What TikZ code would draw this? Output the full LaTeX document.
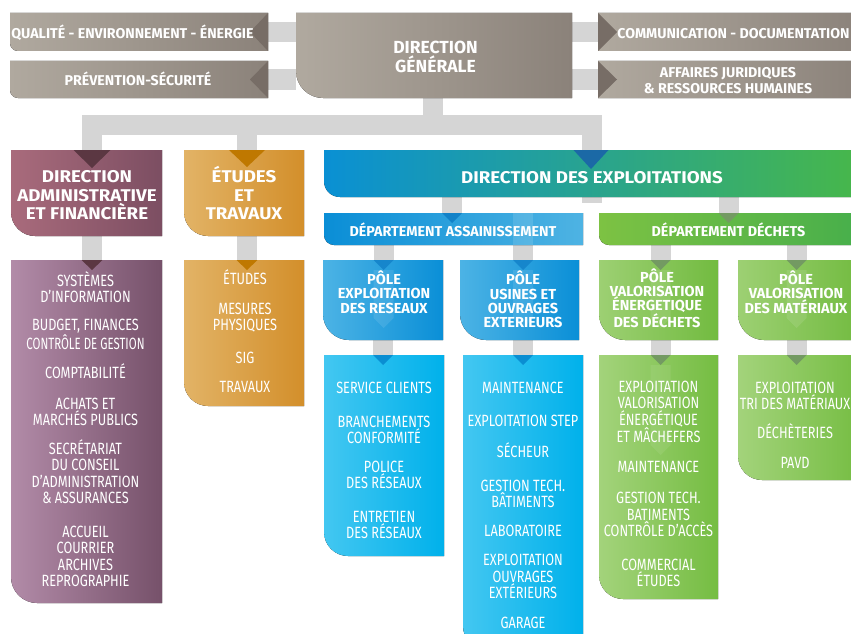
\documentclass[tikz,border=0pt]{standalone}
\usepackage{fontspec}
\setmainfont{Fira Sans}
\newfontfamily\fhead{Fira Sans}
\newfontfamily\fbig{Fira Sans}[FakeStretch=1.1]
\newfontfamily\flist{Fira Sans}[FakeStretch=0.78]
\usetikzlibrary{calc}
\pgfdeclarelayer{bars}
\pgfdeclarelayer{boxes}
\pgfsetlayers{bars,boxes,main}
\definecolor{barc}{HTML}{D5D5D5}
\definecolor{grayL}{HTML}{B0A99F}
\definecolor{grayR}{HTML}{8B827A}
\definecolor{grayT}{HTML}{776D66}
\definecolor{mauveL}{HTML}{A96B7C}
\definecolor{mauveR}{HTML}{7C4E62}
\definecolor{mauveLL}{HTML}{B28BA8}
\definecolor{mauveLR}{HTML}{76516A}
\definecolor{mauveT}{HTML}{5B3742}
\definecolor{orL}{HTML}{E2B366}
\definecolor{orR}{HTML}{D38F2B}
\definecolor{orT}{HTML}{BF7800}
\definecolor{deL}{HTML}{0A90D4}
\definecolor{deM}{HTML}{0EA59A}
\definecolor{deR}{HTML}{47B74A}
\definecolor{deT}{HTML}{1B69A6}
\definecolor{daL}{HTML}{0A8ED6}
\definecolor{daR}{HTML}{4EB3E3}
\definecolor{daT}{HTML}{1282C8}
\definecolor{ddL}{HTML}{7DC243}
\definecolor{ddR}{HTML}{47AF4B}
\definecolor{poL}{HTML}{4CB3E5}
\definecolor{poR}{HTML}{0A8FD7}
\definecolor{blT}{HTML}{1686CC}
\definecolor{cyL}{HTML}{43C7F1}
\definecolor{cyR}{HTML}{00B1EB}
\definecolor{cyT}{HTML}{0A8ED2}
\definecolor{gpL}{HTML}{9DD073}
\definecolor{gpR}{HTML}{72BB40}
\definecolor{glL}{HTML}{A3D37B}
\definecolor{glR}{HTML}{75BD42}
\definecolor{grT}{HTML}{739A62}
\newcommand\mkbox[5]{\node[bx,minimum width={(#4)-(#2)},minimum height={(#5)-(#3)}] (#1) at ({((#2)+(#4))/2},{((#3)+(#5))/2}) {};}
\newcommand\mkshape[4]{\begin{pgfonlayer}{boxes}\fill[left color=#3,right color=#4] (#1.north west) -- (#1.north east) -- (#1.south east) -- ([xshift=#2pt]#1.south west) .. controls ([xshift=0.448*#2pt]#1.south west) and ([yshift=0.448*#2pt]#1.south west) .. ([yshift=#2pt]#1.south west) -- cycle;\end{pgfonlayer}}
\newcommand\mktri[5]{\fill[#1] ({#2-#4},#3) -- ({#2+#4},#3) -- (#2,{#3+#5}) -- cycle;}
\newcommand\mkghost[4]{\fill[white,opacity=#4] ({#1-10},#2) -- ({#1+10},#2) -- ({#1+10},#3) -- (#1,{#3+10}) -- ({#1-10},#3) -- cycle;}
\tikzset{
 bx/.style={rectangle,inner sep=0pt,outer sep=0pt,draw=none},
 conn/.style={draw=barc,line width=20pt},
 txt/.style={text=white,align=center,inner sep=0pt,anchor=base},
 side/.style={txt,font=\fhead\bfseries\fontsize{14.2}{16}\selectfont,yshift=-4.9pt},
 dgt/.style={txt,font=\fhead\bfseries\fontsize{17.5}{18.5}\selectfont,yshift=-6pt},
 hd/.style={txt,font=\fbig\bfseries\fontsize{17}{18.25}\selectfont,yshift=-5.9pt},
 dept/.style={txt,font=\fhead\bfseries\fontsize{14.3}{16}\selectfont,yshift=-4.9pt},
 pole/.style={txt,font=\fhead\bfseries\fontsize{14.5}{14.2}\selectfont,yshift=-5pt},
 lst/.style={txt,font=\flist\fontsize{16.3}{16.4}\selectfont,yshift=-5.6pt},
}
\begin{document}
\begin{tikzpicture}[x=1pt,y=-1pt]
\useasboundingbox (0,0) rectangle (851,634);
\clip (0,0) rectangle (851,634);
\begin{pgfonlayer}{bars}
\fill[white] (0,0) rectangle (851,634);
\end{pgfonlayer}
% boxes
\mkbox{q}{10}{13}{268}{51} \mkshape{q}{8}{grayL}{grayR}
\mkbox{p}{10}{61}{268}{98} \mkshape{p}{8}{grayL}{grayR}
\mkbox{dg}{296}{13}{572}{98} \mkshape{dg}{27}{grayL}{grayR}
\mkbox{com}{598}{13}{862}{51} \mkshape{com}{0}{grayL}{grayR}
\mkbox{af}{598}{61}{862}{98} \mkshape{af}{0}{grayL}{grayR}
\mkbox{daf}{11}{150}{162}{236} \mkshape{daf}{24}{mauveL}{mauveR}
\mkbox{et}{184}{150}{304}{236} \mkshape{et}{24}{orL}{orR}
\mkbox{dde}{324}{150}{860}{197}
\begin{pgfonlayer}{boxes}
\fill[left color=deL,middle color=deM,right color=deR] (dde.north west) -- (dde.north east) -- (dde.south east) -- ([xshift=16pt]dde.south west) .. controls ([xshift=7pt]dde.south west) and ([yshift=7pt]dde.south west) .. ([yshift=16pt]dde.south west) -- cycle;
\end{pgfonlayer}
\mkbox{dafl}{11}{260}{162}{603} \mkshape{dafl}{26}{mauveLL}{mauveLR}
\mkbox{etl}{184}{260}{304}{406} \mkshape{etl}{24}{orL}{orR}
\mkbox{da}{324}{213}{583}{245} \mkshape{da}{10}{daL}{daR}
\mkbox{dd}{599}{213}{858}{245} \mkshape{dd}{10}{ddL}{ddR}
\mkbox{pe}{323}{260}{443}{340} \mkshape{pe}{26}{poL}{poR}
\mkbox{pu}{460}{260}{579}{340} \mkshape{pu}{26}{poL}{poR}
\mkbox{pv}{599}{260}{718}{340} \mkshape{pv}{26}{gpL}{gpR}
\mkbox{pm}{738}{260}{862}{340} \mkshape{pm}{26}{gpL}{gpR}
\mkbox{pel}{324}{355}{444}{556} \mkshape{pel}{24}{cyL}{cyR}
\mkbox{pul}{463}{355}{583}{650} \mkshape{pul}{24}{cyL}{cyR}
\mkbox{pvl}{599}{355}{718}{599} \mkshape{pvl}{24}{glL}{glR}
\mkbox{pml}{738}{355}{862}{480} \mkshape{pml}{24}{glL}{glR}
% connectors
\coordinate (j) at (433,125);
\begin{pgfonlayer}{bars}
\draw[conn] (j |- dg.south) -- (j);
\draw[conn] ([xshift=5.5pt]daf.north) |- (j) -| (dde.north);
\draw[conn] (dde.north) -- ([yshift=-6pt]dde.south);
\draw[conn] ([xshift=3pt]et.north) -- ++(0,-25);
\draw[conn] (q.east) -- (q.east -| dg.west);
\draw[conn] (p.east) -- (p.east -| dg.west);
\draw[conn] (com.west) -- (com.west -| dg.east);
\draw[conn] (af.west) -- (af.west -| dg.east);
\draw[conn] ([xshift=5.5pt]daf.south) -- ([xshift=5.5pt]dafl.north);
\draw[conn] ([xshift=3pt]et.south) -- ([xshift=3pt]etl.north);
\draw[conn] ([xshift=-1.5pt]da.north) -- ++(0,-17);
\draw[conn] (dd.north) -- ++(0,-17);
\draw[conn] ([xshift=0.5pt]pe.north) -- ++(0,-16);
\draw[conn] ([xshift=3.5pt]pu.north) -- ++(0,-16);
\draw[conn] ([xshift=2pt]pv.north) -- ++(0,-16);
\draw[conn] ([xshift=-3.5pt]pm.north) -- ++(0,-16);
\draw[conn] ([xshift=-1pt]pel.north) -- ++(0,-15);
\draw[conn] (pul.north) -- ++(0,-15);
\draw[conn] ([xshift=2pt]pvl.north) -- ++(0,-15);
\draw[conn] ([xshift=-3.5pt]pml.north) -- ++(0,-15);
\end{pgfonlayer}
% ghosts
\fill[white,opacity=0.12] (513,213) rectangle (533,245);
\mkghost{383.5}{270}{318}{0.1}
\mkghost{523}{270}{318}{0.1}
\mkghost{660.5}{270}{318}{0.1}
\mkghost{796.5}{270}{318}{0.1}
\mkghost{660.5}{365}{445}{0.08}
% triangles
\fill[grayT] (q.north east) -- (q.south east) -- ([xshift=-18pt]q.east) -- cycle;
\fill[grayT] (p.north east) -- (p.south east) -- ([xshift=-18pt]p.east) -- cycle;
\fill[grayT] (com.north west) -- (com.south west) -- ([xshift=19pt]com.west) -- cycle;
\fill[grayT] (af.north west) -- (af.south west) -- ([xshift=19pt]af.west) -- cycle;
\mktri{mauveT}{92}{150}{18.5}{18}
\mktri{orT}{247}{150}{18}{17}
\mktri{deT}{591}{150}{17.5}{19}
\mktri{mauveT}{92}{260}{10.5}{10}
\mktri{orT}{247}{260}{10.5}{10}
\mktri{daT}{452}{213}{10}{10}
\mktri{grT}{728.5}{213}{10}{10}
\mktri{blT}{383.5}{260}{10}{10}
\mktri{blT}{523}{260}{10}{10}
\mktri{grT}{660.5}{260}{10}{10}
\mktri{grT}{796.5}{260}{10}{10}
\mktri{cyT}{383}{355}{10}{10}
\mktri{cyT}{523}{355}{10}{10}
\mktri{grT}{660.5}{355}{10}{10}
\mktri{grT}{796.5}{355}{10}{10}
% texts (y = centre of the last line)
\node[side] (tq) at (132.5,33.5) {QUALITÉ - ENVIRONNEMENT - ÉNERGIE};
\node[side] (tp) at (138,81) {PRÉVENTION-SÉCURITÉ};
\node[side] (tc) at (733.5,34) {COMMUNICATION - DOCUMENTATION};
\node[side] (ta) at (728,88.5) {AFFAIRES JURIDIQUES\\\& RESSOURCES HUMAINES};
\node[dgt] (tdg) at (435.5,66) {DIRECTION\\GÉNÉRALE};
\node[hd] (tdaf) at (87,213.5) {DIRECTION\\ADMINISTRATIVE\\ET FINANCIÈRE};
\node[hd] (tet) at (244,213.5) {ÉTUDES\\ET\\TRAVAUX};
\node[hd] (tdde) at (592,177.5) {DIRECTION DES EXPLOITATIONS};
\node[dept] (tda) at (453,232) {DÉPARTEMENT ASSAINISSEMENT};
\node[dept] (tdd) at (728.5,232) {DÉPARTEMENT DÉCHETS};
\node[pole] (tpe) at (384,308) {PÔLE\\EXPLOITATION\\DES RESEAUX};
\node[pole] (tpu) at (523,322.5) {PÔLE\\USINES ET\\OUVRAGES\\EXTERIEURS};
\node[pole] (tpv) at (657,322.5) {PÔLE\\VALORISATION\\ÉNERGETIQUE\\DES DÉCHETS};
\node[pole] (tpm) at (796,308) {PÔLE\\VALORISATION\\DES MATÉRIAUX};
% lists
\node[lst] (l1) at (85.5,297) {SYSTÈMES\\D’INFORMATION};
\node[lst] (l2) at (85.5,344) {BUDGET, FINANCES\\\scalebox{0.9}[1]{CONTRÔLE DE GESTION}};
\node[lst] (l3) at (85.5,373) {COMPTABILITÉ};
\node[lst] (l4) at (85.5,420) {ACHATS ET\\MARCHÉS PUBLICS};
\node[lst] (l5) at (85.5,498) {SECRÉTARIAT\\DU CONSEIL\\D’ADMINISTRATION\\\& ASSURANCES};
\node[lst] (l6) at (85.5,581) {ACCUEIL\\COURRIER\\ARCHIVES\\REPROGRAPHIE};
\node[lst] (e1) at (245,279) {ÉTUDES};
\node[lst] (e2) at (245,325) {MESURES\\PHYSIQUES};
\node[lst] (e3) at (245,358) {SIG};
\node[lst] (e4) at (245,387) {TRAVAUX};
\node[lst] (r1) at (384,388) {SERVICE CLIENTS};
\node[lst] (r2) at (384,438) {BRANCHEMENTS\\CONFORMITÉ};
\node[lst] (r3) at (384,483) {POLICE\\DES RÉSEAUX};
\node[lst] (r4) at (384,533) {ENTRETIEN\\DES RÉSEAUX};
\node[lst] (u1) at (523,388) {MAINTENANCE};
\node[lst] (u2) at (523,421) {EXPLOITATION STEP};
\node[lst] (u3) at (523,452) {SÉCHEUR};
\node[lst] (u4) at (523,502) {GESTION TECH.\\BÂTIMENTS};
\node[lst] (u5) at (523,531) {LABORATOIRE};
\node[lst] (u6) at (523,593) {EXPLOITATION\\OUVRAGES\\EXTÉRIEURS};
\node[lst] (u7) at (523,623) {GARAGE};
\node[lst] (v1) at (658.5,437) {EXPLOITATION\\VALORISATION\\ÉNERGÉTIQUE\\ET MÂCHEFERS};
\node[lst] (v2) at (658.5,467) {MAINTENANCE};
\node[lst] (v3) at (658.5,531) {GESTION TECH.\\BATIMENTS\\CONTRÔLE D’ACCÈS};
\node[lst] (v4) at (658.5,581) {COMMERCIAL\\ÉTUDES};
\node[lst] (m1) at (795,404) {EXPLOITATION\\TRI DES MATÉRIAUX};
\node[lst] (m2) at (795,433) {DÉCHÈTERIES};
\node[lst] (m3) at (795,463) {PAVD};
\end{tikzpicture}
\end{document}
